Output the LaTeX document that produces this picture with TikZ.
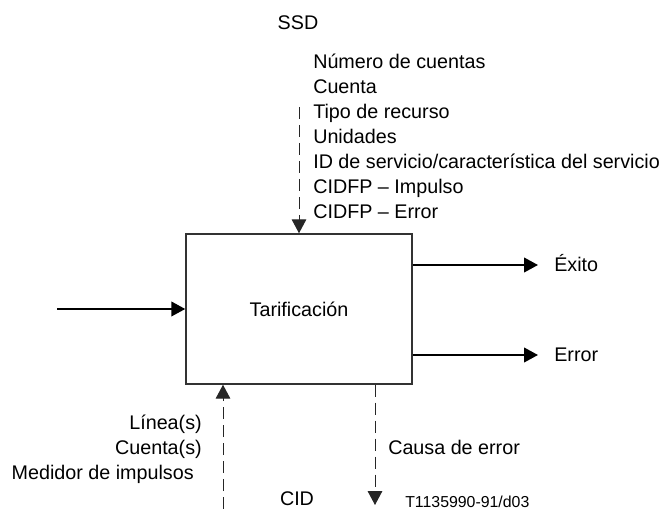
\documentclass[tikz,border=0pt]{standalone}
\usepackage{fontspec}
\setmainfont{Liberation Sans}
\usetikzlibrary{arrows.meta,positioning}

\tikzset{
  lbl/.style={inner sep=0pt, font=\fontsize{14.8pt}{18.75pt}\selectfont},
  tag/.style={inner sep=0pt, font=\fontsize{11.9pt}{14pt}\selectfont},
  funcbox/.style={draw=black!80, line width=1.1pt, minimum width=169.5pt,
    minimum height=112.5pt, inner sep=0pt, font=\fontsize{14.8pt}{18.75pt}\selectfont},
  tip/.style={-{Triangle[length=10.5pt,width=11pt]}},
  flow/.style={tip, line width=1.5pt},
  dataflow/.style={tip, line width=0.75pt, black!85, dash pattern=on 9pt off 4.5pt},
}

\begin{document}
\begin{tikzpicture}[x=0.75pt, y=-0.75pt]
    \useasboundingbox (0,0) rectangle (667,509);

    % the function block
    \node [funcbox] (tarif) at (299,309) {Tarificación};

    % signals from above
    \node [lbl, anchor=base] (ssd) at (298,30) {SSD};
    \foreach \txt [count=\i] in {Número de cuentas, Cuenta, Tipo de recurso, Unidades,
        {ID de servicio/característica del servicio}, CIDFP -- Impulso, CIDFP -- Error}
        \node [lbl, anchor=base west] (ssditem\i) at (313,{44+25*\i}) {\txt};
    \coordinate (ssdin) at (299,107);

    % outcomes
    \node [lbl, anchor=base west] (exito) at (554,272) {Éxito};
    \node [lbl, anchor=base west] (error) at (554,362) {Error};
    \coordinate (exitoend) at (538,265);
    \coordinate (errorend) at (538,355);

    % entry from the left
    \coordinate (entry) at (57,309);

    % signals from below
    \node [lbl, anchor=base east] (linea) at (202,429) {Línea(s)};
    \node [lbl, anchor=base east] (cuentas) at (202,454) {Cuenta(s)};
    \node [lbl, anchor=base east] (medidor) at (194,479) {Medidor de impulsos};
    \node [lbl, anchor=base] (cid) at (297,505) {CID};
    \coordinate (cidin) at (223,509);

    % error cause
    \node [lbl, anchor=base west] (causa) at (388,454) {Causa de error};
    \coordinate (causaend) at (375,505);

    \node [tag, anchor=base west] (ref) at (405,507) {T1135990-91/d03};

    \draw [dataflow] (ssdin) -- (tarif.north);
    \draw [flow] (entry) -- (tarif.west);
    \draw [flow] (tarif.east |- exitoend) -- (exitoend);
    \draw [flow] (tarif.east |- errorend) -- (errorend);
    \draw [dataflow] (cidin) -- (cidin |- tarif.south);
    \draw [dataflow] (causaend |- tarif.south) -- (causaend);
\end{tikzpicture}
\end{document}
